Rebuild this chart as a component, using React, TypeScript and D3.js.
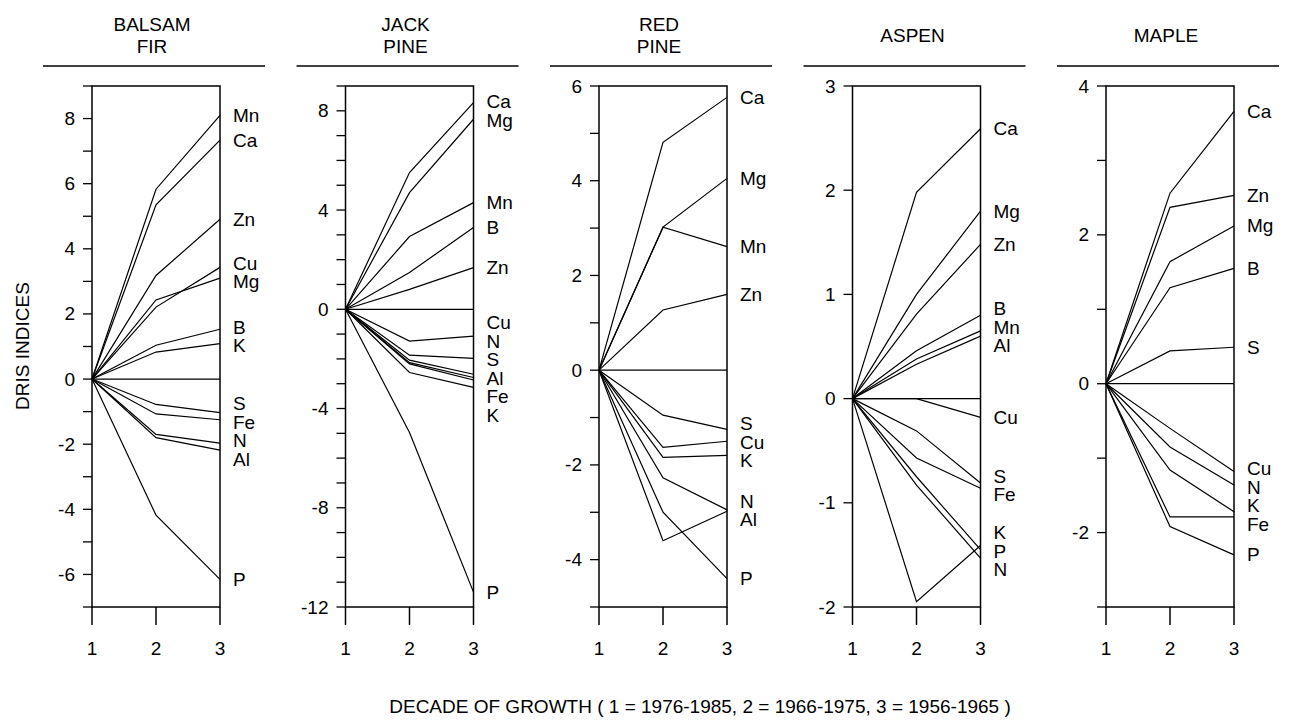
import * as d3 from "d3";

// decade index on the x axis
const decades = [1, 2, 3];

// one entry per species panel; every series starts at 0 in decade 1
const speciesNames = [["BALSAM", "FIR"], ["JACK", "PINE"], ["RED", "PINE"], ["ASPEN"], ["MAPLE"]];
const yDomains: [number, number][] = [[-7, 9], [-12, 9], [-5, 6], [-2, 3], [-3, 4]];
const labelSteps = [2, 4, 2, 1, 2];

const balsamFir: [string, number[]][] = [
  ["Mn", [0, 5.83, 8.1]],
  ["Ca", [0, 5.35, 7.34]],
  ["Zn", [0, 3.18, 4.91]],
  ["Cu", [0, 2.21, 3.43]],
  ["Mg", [0, 2.43, 3.1]],
  ["B", [0, 1.04, 1.53]],
  ["K", [0, 0.83, 1.09]],
  ["S", [0, -0.78, -1.03]],
  ["Fe", [0, -1.07, -1.25]],
  ["N", [0, -1.7, -1.97]],
  ["Al", [0, -1.8, -2.18]],
  ["P", [0, -4.18, -6.15]],
];

const jackPine: [string, number[]][] = [
  ["Ca", [0, 5.51, 8.33]],
  ["Mg", [0, 4.7, 7.66]],
  ["Mn", [0, 2.93, 4.3]],
  ["B", [0, 1.48, 3.3]],
  ["Zn", [0, 0.8, 1.68]],
  ["Cu", [0, -1.28, -1.08]],
  ["N", [0, -1.85, -1.98]],
  ["S", [0, -2.05, -2.62]],
  ["Al", [0, -2.15, -2.75]],
  ["Fe", [0, -2.2, -2.85]],
  ["K", [0, -2.55, -3.15]],
  ["P", [0, -4.97, -11.4]],
];

const redPine: [string, number[]][] = [
  ["Ca", [0, 4.81, 5.76]],
  ["Mg", [0, 3.02, 4.05]],
  ["Mn", [0, 3.02, 2.61]],
  ["Zn", [0, 1.27, 1.6]],
  ["S", [0, -0.95, -1.25]],
  ["Cu", [0, -1.63, -1.5]],
  ["K", [0, -1.84, -1.8]],
  ["N", [0, -2.27, -2.95]],
  ["Al", [0, -3.6, -2.98]],
  ["P", [0, -3.0, -4.4]],
];

const aspen: [string, number[]][] = [
  ["Ca", [0, 1.98, 2.59]],
  ["Mg", [0, 1.0, 1.8]],
  ["Zn", [0, 0.81, 1.48]],
  ["B", [0, 0.46, 0.8]],
  ["Mn", [0, 0.38, 0.65]],
  ["Al", [0, 0.33, 0.6]],
  ["Cu", [0, 0, -0.18]],
  ["S", [0, -0.31, -0.81]],
  ["Fe", [0, -0.57, -0.86]],
  ["K", [0, -1.95, -1.41]],
  ["P", [0, -0.75, -1.45]],
  ["N", [0, -0.83, -1.53]],
];

const maple: [string, number[]][] = [
  ["Ca", [0, 2.56, 3.66]],
  ["Zn", [0, 2.37, 2.53]],
  ["Mg", [0, 1.64, 2.12]],
  ["B", [0, 1.29, 1.55]],
  ["S", [0, 0.44, 0.49]],
  ["Cu", [0, -0.6, -1.18]],
  ["N", [0, -0.85, -1.36]],
  ["K", [0, -1.16, -1.72]],
  ["Fe", [0, -1.79, -1.79]],
  ["P", [0, -1.92, -2.3]],
];

const panels = [balsamFir, jackPine, redPine, aspen, maple];

const xTitle = "DECADE OF GROWTH ( 1 = 1976-1985, 2 = 1966-1975, 3 = 1956-1965 )";
const yTitle = "DRIS INDICES";

const W = 1298;
const H = 727;
const top = 86;
const bottom = 607;
const boxW = 128;
const fs = 19;
const font = "'Liberation Sans', Arial, Helvetica, sans-serif";

// push labels apart so they don't overlap, keeping groups centred on their lines
function dodge(ys: number[], gap: number) {
  const order = ys.map((y, i) => ({ y, i })).sort((a, b) => a.y - b.y);
  let groups = order.map((d) => ({ items: [d], pos: d.y }));
  let moved = true;
  while (moved) {
    moved = false;
    for (let g = 0; g < groups.length - 1; g++) {
      const a = groups[g];
      const b = groups[g + 1];
      const aEnd = a.pos + (a.items.length - 1) * gap;
      if (b.pos - aEnd < gap) {
        const items = a.items.concat(b.items);
        const mean = d3.mean(items, (d) => d.y)!;
        const pos = mean - ((items.length - 1) * gap) / 2;
        groups.splice(g, 2, { items, pos });
        moved = true;
        break;
      }
    }
  }
  const out = new Array(ys.length);
  groups.forEach((g) => g.items.forEach((d, k) => (out[d.i] = g.pos + k * gap)));
  return out as number[];
}

function Panel({ idx }: { idx: number }) {
  const left = 92 + idx * 253.5;
  const x = d3.scaleLinear().domain([1, 3]).range([left, left + boxW]);
  const y = d3.scaleLinear().domain(yDomains[idx]).range([bottom, top]);
  const data = panels[idx];
  const line = d3
    .line<number>()
    .x((_, i) => x(decades[i]))
    .y((d) => y(d));
  const [lo, hi] = yDomains[idx];
  const minor = d3.range(lo, hi + 1);
  const major = minor.filter((v) => v % labelSteps[idx] === 0);
  const labelY = dodge(
    data.map((d) => y(d[1][2])),
    18.5
  );
  const title = speciesNames[idx];
  const cx = left + 60;

  return (
    <g>
      {title.length === 2 ? (
        <>
          <text x={cx} y={31} textAnchor="middle" fontSize={fs}>
            {title[0]}
          </text>
          <text x={cx} y={53} textAnchor="middle" fontSize={fs}>
            {title[1]}
          </text>
        </>
      ) : (
        <text x={cx} y={42} textAnchor="middle" fontSize={fs}>
          {title[0]}
        </text>
      )}
      <line x1={left - 49} x2={left + boxW + 45} y1={66} y2={66} stroke="#000" strokeWidth={1.3} />

      <rect x={left} y={top} width={boxW} height={bottom - top} fill="none" stroke="#000" strokeWidth={1.5} />
      <line x1={left} x2={left + boxW} y1={y(0)} y2={y(0)} stroke="#000" strokeWidth={1.3} />

      {minor.map((v) => (
        <line key={v} x1={left - 9} x2={left} y1={y(v)} y2={y(v)} stroke="#000" strokeWidth={1.3} />
      ))}
      {major.map((v) => (
        <text key={v} x={left - 17} y={y(v)} textAnchor="end" dominantBaseline="central" fontSize={fs}>
          {v}
        </text>
      ))}

      {decades.map((d) => (
        <g key={d}>
          <line x1={x(d)} x2={x(d)} y1={bottom} y2={bottom + 18} stroke="#000" strokeWidth={1.5} />
          <text x={x(d)} y={648} textAnchor="middle" dominantBaseline="central" fontSize={fs}>
            {d}
          </text>
        </g>
      ))}

      {data.map(([name, vals]) => (
        <path key={name} d={line(vals)!} fill="none" stroke="#000" strokeWidth={1.2} />
      ))}
      {data.map(([name], i) => (
        <text key={name} x={left + boxW + 13} y={labelY[i]} dominantBaseline="central" fontSize={fs}>
          {name}
        </text>
      ))}
    </g>
  );
}

export default function App() {
  return (
    <svg
      width={W}
      height={H}
      style={{ position: "absolute", left: 0, top: 0, background: "#fff" }}
      fontFamily={font}
      fill="#000"
    >
      {panels.map((_, i) => (
        <Panel key={i} idx={i} />
      ))}
      <text x={22} y={346} transform="rotate(-90 22 346)" textAnchor="middle" dominantBaseline="central" fontSize={fs}>
        {yTitle}
      </text>
      <text x={700} y={706} textAnchor="middle" dominantBaseline="central" fontSize={fs}>
        {xTitle}
      </text>
    </svg>
  );
}
